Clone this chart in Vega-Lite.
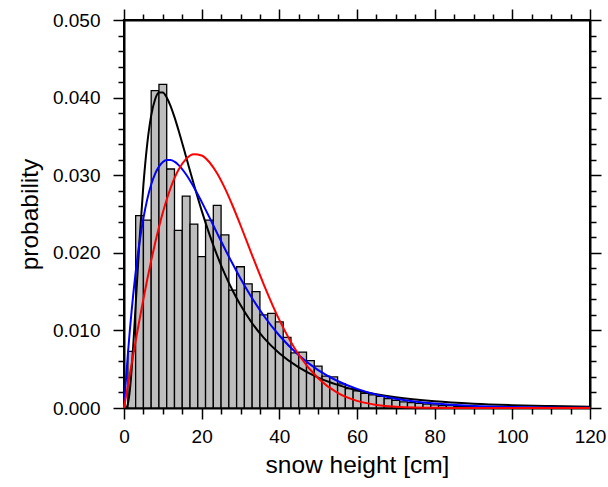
{
  "$schema": "https://vega.github.io/schema/vega-lite/v6.json",
  "autosize": "none",
  "width": 466,
  "height": 388,
  "padding": {"left": 124, "top": 20, "right": 18, "bottom": 79},
  "background": "white",
  "config": {
    "view": {"stroke": "black", "strokeWidth": 2},
    "axis": {
      "labelFont": "Liberation Sans",
      "titleFont": "Liberation Sans",
      "labelColor": "black",
      "titleColor": "black",
      "tickColor": "black",
      "domainColor": "black",
      "titleFontWeight": "normal",
      "grid": false,
      "labelFontSize": 19,
      "titleFontSize": 24.5,
      "tickWidth": 1.5,
      "domainWidth": 2,
      "labelFlush": false,
      "labelOverlap": false
    }
  },
  "datasets": {
    "bars": [
      {"lo": 1, "hi": 3, "p": 0.0073},
      {"lo": 3, "hi": 5, "p": 0.0248},
      {"lo": 5, "hi": 7, "p": 0.0242},
      {"lo": 7, "hi": 9, "p": 0.0409},
      {"lo": 9, "hi": 11, "p": 0.0417},
      {"lo": 11, "hi": 13, "p": 0.0308},
      {"lo": 13, "hi": 15, "p": 0.0229},
      {"lo": 15, "hi": 17, "p": 0.0273},
      {"lo": 17, "hi": 19, "p": 0.0237},
      {"lo": 19, "hi": 21, "p": 0.0195},
      {"lo": 21, "hi": 23, "p": 0.0242},
      {"lo": 23, "hi": 25, "p": 0.0261},
      {"lo": 25, "hi": 27, "p": 0.0223},
      {"lo": 27, "hi": 29, "p": 0.0152},
      {"lo": 29, "hi": 31, "p": 0.0182},
      {"lo": 31, "hi": 33, "p": 0.0160},
      {"lo": 33, "hi": 35, "p": 0.0150},
      {"lo": 35, "hi": 37, "p": 0.0120},
      {"lo": 37, "hi": 39, "p": 0.0122},
      {"lo": 39, "hi": 41, "p": 0.0111},
      {"lo": 41, "hi": 43, "p": 0.0091},
      {"lo": 43, "hi": 45, "p": 0.0071},
      {"lo": 45, "hi": 47, "p": 0.0072},
      {"lo": 47, "hi": 49, "p": 0.0061},
      {"lo": 49, "hi": 51, "p": 0.0054},
      {"lo": 51, "hi": 53, "p": 0.0041},
      {"lo": 53, "hi": 55, "p": 0.0040},
      {"lo": 55, "hi": 57, "p": 0.0031},
      {"lo": 57, "hi": 59, "p": 0.0025},
      {"lo": 59, "hi": 61, "p": 0.0022},
      {"lo": 61, "hi": 63, "p": 0.0019},
      {"lo": 63, "hi": 65, "p": 0.0017},
      {"lo": 65, "hi": 67, "p": 0.0015},
      {"lo": 67, "hi": 69, "p": 0.0012},
      {"lo": 69, "hi": 71, "p": 0.0010},
      {"lo": 71, "hi": 73, "p": 0.0008},
      {"lo": 73, "hi": 75, "p": 0.0007},
      {"lo": 75, "hi": 77, "p": 0.0006},
      {"lo": 77, "hi": 79, "p": 0.0005},
      {"lo": 79, "hi": 81, "p": 0.0004},
      {"lo": 81, "hi": 83, "p": 0.0003},
      {"lo": 83, "hi": 85, "p": 0.0003},
      {"lo": 85, "hi": 87, "p": 0.0002},
      {"lo": 87, "hi": 89, "p": 0.0002},
      {"lo": 89, "hi": 91, "p": 0.0002},
      {"lo": 91, "hi": 93, "p": 0.0001},
      {"lo": 93, "hi": 95, "p": 0.0001},
      {"lo": 95, "hi": 97, "p": 0.0001},
      {"lo": 97, "hi": 99, "p": 0.0001}
    ],
    "curves": [
      {"h": 0, "black": 0, "blue": 0, "red": 0},
      {"h": 0.5, "black": 0.00003, "blue": 0.00362, "red": 0.00146},
      {"h": 1, "black": 0.00056, "blue": 0.00696, "red": 0.00291},
      {"h": 1.5, "black": 0.00227, "blue": 0.00999, "red": 0.00436},
      {"h": 2, "black": 0.00521, "blue": 0.01271, "red": 0.00579},
      {"h": 2.5, "black": 0.00901, "blue": 0.01521, "red": 0.00722},
      {"h": 3, "black": 0.01324, "blue": 0.01748, "red": 0.00863},
      {"h": 4, "black": 0.02165, "blue": 0.02136, "red": 0.01139},
      {"h": 5, "black": 0.02878, "blue": 0.02447, "red": 0.01405},
      {"h": 6, "black": 0.03411, "blue": 0.02692, "red": 0.01659},
      {"h": 7, "black": 0.03768, "blue": 0.02880, "red": 0.01899},
      {"h": 8, "black": 0.03976, "blue": 0.03017, "red": 0.02124},
      {"h": 9, "black": 0.04066, "blue": 0.03111, "red": 0.02330},
      {"h": 10, "black": 0.04067, "blue": 0.03169, "red": 0.02518},
      {"h": 11, "black": 0.04001, "blue": 0.03196, "red": 0.02687},
      {"h": 12, "black": 0.03890, "blue": 0.03196, "red": 0.02835},
      {"h": 13, "black": 0.03748, "blue": 0.03174, "red": 0.02961},
      {"h": 14, "black": 0.03586, "blue": 0.03133, "red": 0.03066},
      {"h": 16, "black": 0.03234, "blue": 0.03009, "red": 0.03211},
      {"h": 18, "black": 0.02880, "blue": 0.02845, "red": 0.03271},
      {"h": 20, "black": 0.02544, "blue": 0.02656, "red": 0.03254},
      {"h": 22, "black": 0.02238, "blue": 0.02456, "red": 0.03167},
      {"h": 24, "black": 0.01965, "blue": 0.02251, "red": 0.03022},
      {"h": 26, "black": 0.01723, "blue": 0.02049, "red": 0.02830},
      {"h": 28, "black": 0.01511, "blue": 0.01855, "red": 0.02603},
      {"h": 30, "black": 0.01326, "blue": 0.01670, "red": 0.02355},
      {"h": 33, "black": 0.01092, "blue": 0.01415, "red": 0.01967},
      {"h": 36, "black": 0.00903, "blue": 0.01189, "red": 0.01591},
      {"h": 40, "black": 0.00705, "blue": 0.00934, "red": 0.01135},
      {"h": 45, "black": 0.00523, "blue": 0.00680, "red": 0.00686},
      {"h": 50, "black": 0.00392, "blue": 0.00489, "red": 0.00383},
      {"h": 55, "black": 0.00298, "blue": 0.00348, "red": 0.00194},
      {"h": 60, "black": 0.00228, "blue": 0.00246, "red": 0.00092},
      {"h": 65, "black": 0.00177, "blue": 0.00172, "red": 0.00040},
      {"h": 70, "black": 0.00138, "blue": 0.00120, "red": 0.00016},
      {"h": 80, "black": 0.000865, "blue": 0.000576, "red": 0.00002},
      {"h": 90, "black": 0.000558, "blue": 0.000272, "red": 0},
      {"h": 100, "black": 0.000370, "blue": 0.000126, "red": 0},
      {"h": 110, "black": 0.000251, "blue": 0.000058, "red": 0},
      {"h": 120, "black": 0.000174, "blue": 0.000027, "red": 0}
    ]
  },
  "resolve": {"axis": {"x": "independent", "y": "independent"}},
  "layer": [
    {
      "data": {"name": "bars"},
      "mark": {"type": "rect", "fill": "#bebebe", "stroke": "black", "strokeWidth": 1.3},
      "encoding": {
        "x": {"field": "lo", "type": "quantitative",
          "scale": {"domain": [0, 120], "nice": false, "zero": false},
          "axis": {"orient": "bottom", "values": [0, 20, 40, 60, 80, 100, 120], "format": "d",
            "tickSize": 11, "labelPadding": 8, "title": "snow height [cm]", "titlePadding": 7}},
        "x2": {"field": "hi"},
        "y": {"field": "p", "type": "quantitative",
          "scale": {"domain": [0, 0.05], "nice": false},
          "axis": {"orient": "left", "values": [0, 0.01, 0.02, 0.03, 0.04, 0.05], "format": ".3f",
            "tickSize": 11, "labelPadding": 13, "title": "probability", "titlePadding": 10}},
        "y2": {"datum": 0}
      }
    },
    {
      "data": {"name": "curves"},
      "mark": {"type": "line", "color": "black", "strokeWidth": 2, "interpolate": "monotone"},
      "encoding": {
        "x": {"field": "h", "type": "quantitative",
          "scale": {"domain": [0, 120], "nice": false, "zero": false},
          "axis": {"orient": "bottom", "values": [5, 10, 15, 25, 30, 35, 45, 50, 55, 65, 70, 75, 85, 90, 95, 105, 110, 115],
            "labels": false, "domain": false, "tickSize": 6, "title": null}},
        "y": {"field": "black", "type": "quantitative",
          "scale": {"domain": [0, 0.05], "nice": false},
          "axis": {"orient": "left", "values": [0.002, 0.004, 0.006, 0.008, 0.012, 0.014, 0.016, 0.018, 0.022, 0.024, 0.026, 0.028, 0.032, 0.034, 0.036, 0.038, 0.042, 0.044, 0.046, 0.048],
            "labels": false, "domain": false, "tickSize": 6, "title": null}}
      }
    },
    {
      "data": {"name": "curves"},
      "mark": {"type": "line", "color": "#0000ff", "strokeWidth": 2, "interpolate": "monotone"},
      "encoding": {
        "x": {"field": "h", "type": "quantitative",
          "scale": {"domain": [0, 120], "nice": false, "zero": false},
          "axis": {"orient": "top", "values": [0, 20, 40, 60, 80, 100, 120],
            "labels": false, "tickSize": 11, "title": null}},
        "y": {"field": "blue", "type": "quantitative",
          "scale": {"domain": [0, 0.05], "nice": false},
          "axis": {"orient": "right", "values": [0, 0.01, 0.02, 0.03, 0.04, 0.05],
            "labels": false, "tickSize": 11, "title": null}}
      }
    },
    {
      "data": {"name": "curves"},
      "mark": {"type": "line", "color": "#ff0000", "strokeWidth": 2, "interpolate": "monotone"},
      "encoding": {
        "x": {"field": "h", "type": "quantitative",
          "scale": {"domain": [0, 120], "nice": false, "zero": false},
          "axis": {"orient": "top", "values": [5, 10, 15, 25, 30, 35, 45, 50, 55, 65, 70, 75, 85, 90, 95, 105, 110, 115],
            "labels": false, "domain": false, "tickSize": 6, "title": null}},
        "y": {"field": "red", "type": "quantitative",
          "scale": {"domain": [0, 0.05], "nice": false},
          "axis": {"orient": "right", "values": [0.002, 0.004, 0.006, 0.008, 0.012, 0.014, 0.016, 0.018, 0.022, 0.024, 0.026, 0.028, 0.032, 0.034, 0.036, 0.038, 0.042, 0.044, 0.046, 0.048],
            "labels": false, "domain": false, "tickSize": 6, "title": null}}
      }
    }
  ]
}
